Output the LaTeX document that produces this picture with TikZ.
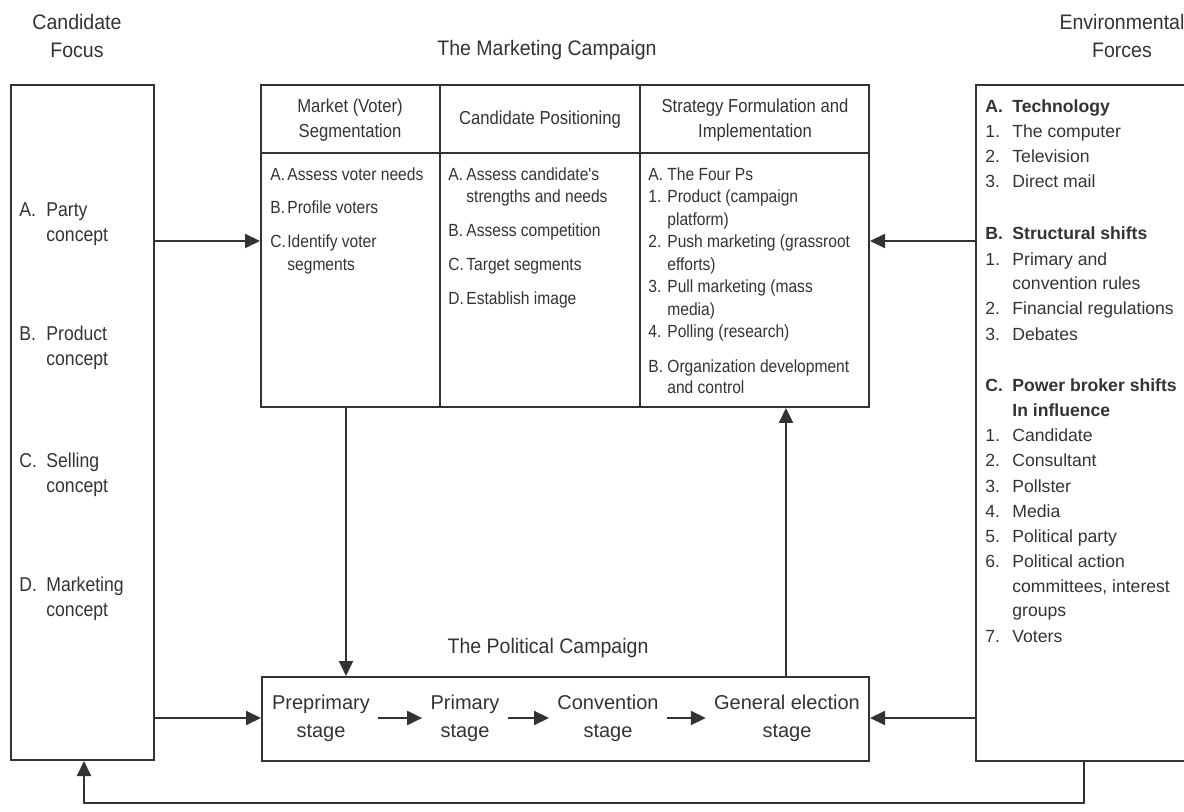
\documentclass[tikz,border=0pt]{standalone}
\usepackage{fontspec}
\setmainfont{Liberation Sans}
\newfontfamily\titlefont[FakeStretch=0.93]{Liberation Sans}
\newfontfamily\focusfont[FakeStretch=0.88]{Liberation Sans}
\newfontfamily\narrowfont[FakeStretch=0.885]{Liberation Sans}
\usetikzlibrary{arrows.meta,fit}

\tikzset{
  box/.style={draw=black!80, line width=1pt, inner sep=0pt},
  rule/.style={draw=black!80, line width=1pt},
  arr/.style={draw=black!80, line width=1pt, -{Triangle[length=7.5pt,width=7pt]}},
  ttl/.style={text=black!80, inner sep=0pt, anchor=mid, font=\titlefont\fontsize{10.5}{12}\selectfont},
  head/.style={text=black!80, inner sep=0pt, anchor=mid, font=\narrowfont\fontsize{9.4}{11}\selectfont},
  fitem/.style={text=black!80, inner sep=0pt, anchor=mid west, font=\focusfont\fontsize{10}{12}\selectfont},
  mitem/.style={text=black!80, inner sep=0pt, anchor=mid west, font=\narrowfont\fontsize{8.8}{10}\selectfont},
  eitem/.style={text=black!80, inner sep=0pt, anchor=mid west, font=\fontsize{8.8}{10}\selectfont},
  stage/.style={text=black!80, inner sep=2pt, align=center, font=\fontsize{10}{14}\selectfont},
}

\begin{document}
\begin{tikzpicture}[x=0.5pt,y=-0.5pt]
\useasboundingbox (0,0) rectangle (1184,812);
\clip (0,0) rectangle (1184,812);

% titles
\node[ttl] (cfa) at (77,24) {Candidate};
\node[ttl] (cfb) at (77,52) {Focus};
\node[ttl] (mct) at (547,50) {The Marketing Campaign};
\node[ttl] (efa) at (1122,24) {Environmental};
\node[ttl] (efb) at (1122,52) {Forces};
\node[ttl] (pct) at (548,648) {The Political Campaign};

% boxes
\node[box, fit={(11,85) (154,760)}] (focus) {};
\node[box, fit={(261,85) (869,407)}] (mkt) {};
\node[box, fit={(976,85) (1200,761)}] (env) {};
\node[box, fit={(262,677) (869,761)}] (pol) {};

% table rules
\coordinate (hdr) at (0,153);
\coordinate (colb) at (440,0);
\coordinate (colc) at (640,0);
\draw[rule] (mkt.west |- hdr) -- (mkt.east |- hdr);
\draw[rule] (mkt.north -| colb) -- (mkt.south -| colb);
\draw[rule] (mkt.north -| colc) -- (mkt.south -| colc);

% table headers
\node[head] (h1a) at (350,107) {Market (Voter)};
\node[head] (h1b) at (350,132) {Segmentation};
\node[head] (h2) at (540,119) {Candidate Positioning};
\node[head] (h3a) at (755,107) {Strategy Formulation and};
\node[head] (h3b) at (755,132) {Implementation};

% candidate focus
\foreach \y/\l/\t [count=\i] in {211/A./Party, 335/B./Product, 462/C./Selling, 586/D./Marketing} {
  \node[fitem] (fl\i) at (19,\y) {\l};
  \node[fitem] (ft\i) at (46,\y) {\t};
  \node[fitem] (fc\i) at (46,\y+25) {concept};
}

% market segmentation
\foreach \y/\l [count=\i] in {175/A., 208/B., 242/C.}
  \node[mitem] (sl\i) at (270,\y) {\l};
\foreach \y/\t [count=\i] in {175/Assess voter needs, 208/Profile voters, 242/Identify voter, 265/segments}
  \node[mitem] (st\i) at (287,\y) {\t};

% candidate positioning
\foreach \y/\l [count=\i] in {175/A., 231/B., 265/C., 299/D.}
  \node[mitem] (pl\i) at (448,\y) {\l};
\foreach \y/\t [count=\i] in {175/Assess candidate's, 197/strengths and needs, 231/Assess competition, 265/Target segments, 299/Establish image}
  \node[mitem] (pt\i) at (466,\y) {\t};

% strategy
\foreach \y/\l [count=\i] in {175/A., 197/1., 242/2., 287/3., 332/4., 367/B.}
  \node[mitem] (gl\i) at (648,\y) {\l};
\foreach \y/\t [count=\i] in {175/The Four Ps, 197/Product (campaign, 220/platform), 242/Push marketing (grassroot, 265/efforts), 287/Pull marketing (mass, 310/media), 332/Polling (research), 367/Organization development, 388/and control}
  \node[mitem] (gt\i) at (667,\y) {\t};

% environmental forces
\foreach \y/\l [count=\i] in {107/A., 234/B., 386/C.}
  \node[eitem, font=\bfseries\fontsize{8.8}{10}\selectfont] (ea\i) at (985,\y) {\l};
\foreach \y/\t [count=\i] in {107/Technology, 234/Structural shifts, 386/Power broker shifts, 411/In influence}
  \node[eitem, font=\bfseries\fontsize{8.8}{10}\selectfont] (eb\i) at (1012,\y) {\t};
\foreach \y/\l [count=\i] in {132/1., 157/2., 182/3., 260/1., 309/2., 335/3., 436/1., 461/2., 487/3., 512/4., 537/5., 562/6., 637/7.}
  \node[eitem] (en\i) at (985,\y) {\l};
\foreach \y/\t [count=\i] in {132/The computer, 157/Television, 182/Direct mail, 260/Primary and, 284/convention rules, 309/Financial regulations, 335/Debates, 436/Candidate, 461/Consultant, 487/Pollster, 512/Media, 537/Political party, 562/Political action, 587/{committees, interest}, 611/groups, 637/Voters}
  \node[eitem] (et\i) at (1012,\y) {\t};

% stages
\node[stage] (pre) at (321,718) {Preprimary\\stage};
\node[stage] (prim) at (465,718) {Primary\\stage};
\node[stage] (conv) at (608,718) {Convention\\stage};
\node[stage] (gen) at (787,718) {General election\\stage};
\draw[arr, shorten <=2pt, shorten >=2pt] (pre) -- (prim);
\draw[arr, shorten <=2pt, shorten >=2pt] (prim) -- (conv);
\draw[arr, shorten <=2pt, shorten >=2pt] (conv) -- (gen);

% connectors
\coordinate (upper) at (0,241);
\coordinate (lower) at (0,718);
\coordinate (down) at (346,0);
\coordinate (up) at (786,0);
\coordinate (fbr) at (1084,803);
\coordinate (fbl) at (84,803);
\draw[arr] (focus.east |- upper) -- (mkt.west |- upper);
\draw[arr] (env.west |- upper) -- (mkt.east |- upper);
\draw[arr] (focus.east |- lower) -- (pol.west |- lower);
\draw[arr] (env.west |- lower) -- (pol.east |- lower);
\draw[arr] (mkt.south -| down) -- (pol.north -| down);
\draw[arr] (pol.north -| up) -- (mkt.south -| up);
\draw[arr] (env.south -| fbr) -- (fbr) -- (fbl) -- (focus.south -| fbl);
\end{tikzpicture}
\end{document}
